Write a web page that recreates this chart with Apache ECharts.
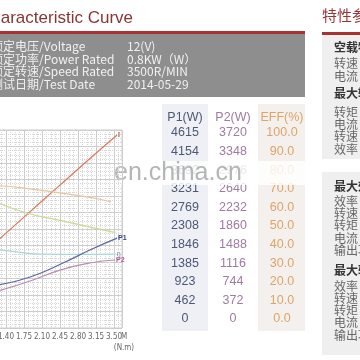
<!DOCTYPE html>
<html><head><meta charset="utf-8">
<script src="https://cdn.jsdelivr.net/npm/echarts@6/dist/echarts.min.js"></script>
<style>html,body{margin:0;padding:0;background:#fff}#c{width:360px;height:360px}</style>
</head><body><div id="c"></div>
<script>
// ---- data ----
const xTickLabels = ['1.40','1.75','2.10','2.45','2.80','3.15','3.50'];
const curveI  = [[1.24,53],[1.76,67.5],[2.41,85.5],[3.06,103.5],[3.56,117]];
const curveN  = [[1.24,86.3],[1.76,84.8],[2.41,82],[3.06,79],[3.44,76.5]];
const curveE  = [[1.24,76],[1.8,69.7],[2.41,65.5],[3.06,61],[3.53,57.8]];
const curveEta= [[1.24,47.5],[1.76,45.5],[2.08,44.8],[2.74,44.6],[3.53,44.8]];
const curveP1 = [[1.24,26],[1.87,30.9],[2.55,40],[3.03,47.3],[3.56,54.5]];
const curveP2 = [[1.24,22.4],[1.87,28.5],[2.45,35.1],[3.03,39.4],[3.52,41.2]];
const tableP1  = ['4615','4154','3692','3231','2769','2308','1846','1385','923','462','0'];
const tableP2  = ['3720','3348','2976','2640','2232','1860','1488','1116','744','372','0'];
const tableEff = ['100.0','90.0','80.0','70.0','60.0','50.0','40.0','30.0','20.0','10.0','0.0'];
const infoLabels = ['额定电压/Voltage','额定功率/Power Rated','额定转速/Speed Rated','测试日期/Test Date'];
const infoValues = ['12(V)','0.8KW（W）','3500R/MIN','2014-05-29'];
const sideItems = [
  ['空载特性',true],['转速',false],['电流',false],['最大输出功率点',true],['转矩',false],['电流',false],['转速',false],['效率',false],
  ['最大效率点',true],['效率',false],['转速',false],['转矩',false],['电流',false],['输出功率',false],
  ['最大转矩点',true],['效率',false],['转速',false],['转矩',false],['电流',false],['输出功率',false]
];
const sideY = [47,63,76,93,112,124,136,149,186,201,213,225,238,250,270,286,298,310,322,335];

// ---- build ----
const chart = echarts.init(document.getElementById('c'), null, {renderer:'canvas'});
const F = '"Liberation Sans", Arial, sans-serif';
const NF = '"Liberation Sans Narrow", "DejaVu Sans Condensed", "Liberation Sans", sans-serif';
const CJK = '"Noto Sans CJK SC", "Liberation Sans", sans-serif';
const g = [];
// title
g.push({type:'text', x:133, y:18, style:{text:'Characteristic Curve', align:'right', verticalAlign:'middle', font:'17px '+F, fill:'#8a3434'}});
g.push({type:'rect', shape:{x:0,y:31,width:305,height:3}, style:{fill:'#a83232'}});
g.push({type:'rect', shape:{x:0,y:34,width:305,height:63}, style:{fill:'#8e8e8e'}});
const infoY=[46,59,71,84];
infoLabels.forEach((t,i)=>{
  g.push({type:'text', x:-9, y:infoY[i], style:{text:t, verticalAlign:'middle', font:'12px '+CJK, fill:'#f0f0f0'}});
  g.push({type:'text', x:127, y:infoY[i], style:{text:infoValues[i], verticalAlign:'middle', font:'12px '+CJK, fill:'#f0f0f0'}});
});
// right panel
g.push({type:'text', x:322, y:15, style:{text:'特性参数', verticalAlign:'middle', font:'15px '+CJK, fill:'#9a3535'}});
g.push({type:'rect', shape:{x:322,y:32,width:40,height:3}, style:{fill:'#a83232'}});
g.push({type:'rect', shape:{x:322,y:35,width:40,height:124}, style:{fill:'#efefef'}});
g.push({type:'rect', shape:{x:322,y:172,width:40,height:183}, style:{fill:'#efefef'}});
sideItems.forEach((it,i)=>{
  g.push({type:'text', x:334, y:sideY[i], style:{text:it[0], verticalAlign:'middle',
    font:(it[1]?'bold 12px ':'12px ')+CJK, fill:it[1]?'#333':'#666'}});
});
// table
g.push({type:'rect', shape:{x:162,y:104,width:46,height:227}, style:{fill:'#eef0f5'}});
g.push({type:'rect', shape:{x:258,y:104,width:47,height:227}, style:{fill:'#f3f0ee'}});
const cols=[[185,'P1(W)',tableP1,'#4d5877'],[233,'P2(W)',tableP2,'#a07ba3'],[282,'EFF(%)',tableEff,'#e0a465']];
cols.forEach(c=>{
  g.push({type:'text', x:c[0], y:118, style:{text:c[1], align:'center', verticalAlign:'middle', font:'12.5px '+F, fill:c[3]}});
  c[2].forEach((v,i)=>{
    g.push({type:'text', x:c[0], y:133+i*18.6, style:{text:v, align:'center', verticalAlign:'middle', font:'12.5px '+F, fill:c[3]}});
  });
});
// axis unit texts
g.push({type:'text', x:121, y:337, style:{text:'M', verticalAlign:'middle', font:'8px '+NF, fill:'#666'}});
g.push({type:'text', x:124, y:348, style:{text:'(N.m)', align:'center', verticalAlign:'middle', font:'8px '+NF, fill:'#666'}});
// watermark band
g.push({type:'rect', shape:{x:0,y:161,width:322,height:24}, style:{fill:'rgba(255,255,255,0.82)'}});
g.push({type:'text', x:114, y:173, style:{text:'en.china.cn', verticalAlign:'middle', font:'25px '+F, fill:'#b5b5b5'}});

function line(data,color,label,lc){
  return {type:'line', data, smooth:true, symbol:'none', lineStyle:{color, width:1.2},
    endLabel:{show:!!label, formatter:label||'', color:lc||color, fontSize:7, fontWeight:'bold', distance:1}};
}
const split = {show:true, lineStyle:{color:'#cdcdcd', width:1}};
const minor = {show:true, lineStyle:{color:'#d6d6d6', width:1, type:[1,1]}};
chart.setOption({
  animation:false,
  grid:{left:-66, top:130, width:188, height:198, show:true, borderColor:'#cdcdcd', borderWidth:1,
    outerBoundsMode:'none', containLabel:false},
  xAxis:{type:'value', min:0, max:3.655, interval:0.35,
    axisLine:{show:false}, axisTick:{show:false},
    axisLabel:{margin:5, fontSize:8, color:'#666', fontFamily:NF,
      formatter:v=>{const k=Math.round(v/0.35)-4; return (k>=0&&k<xTickLabels.length&&Math.abs(v-0.35*(k+4))<1e-6)?xTickLabels[k]:'';}},
    splitLine:split, minorTick:{show:false, splitNumber:4}, minorSplitLine:minor},
  yAxis:{type:'value', min:0, max:120, interval:10, axisLine:{show:false}, axisTick:{show:false}, axisLabel:{show:false},
    splitLine:split, minorTick:{show:false, splitNumber:4}, minorSplitLine:minor},
  series:[
    line(curveI,'#d9785a','I','#c05040'),
    line(curveN,'#e8c49a'),
    line(curveE,'#c9d98e'),
    line(curveEta,'#a9d7db','η','#9ab'),
    line(curveP1,'#5b68a0','P1','#34407a'),
    line(curveP2,'#b88bb0','P2','#b05a90')
  ],
  graphic:{elements:g}
});
</script></body></html>
